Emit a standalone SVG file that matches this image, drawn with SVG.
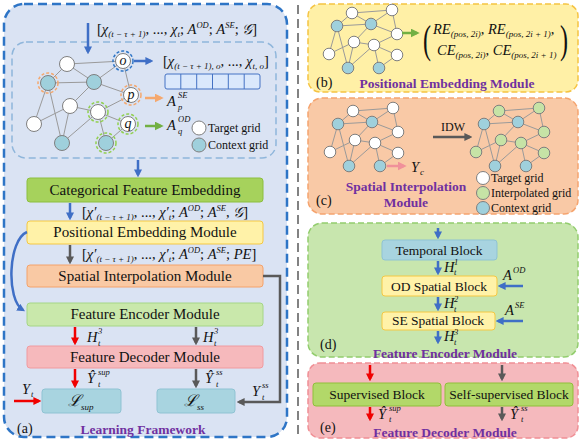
<svg xmlns="http://www.w3.org/2000/svg" xmlns:xlink="http://www.w3.org/1999/xlink" width="581" height="443" viewBox="0 0 581 443" font-family="'Liberation Serif', 'Times New Roman', serif">
<style>
text{font-family:"Liberation Serif","Times New Roman",serif;fill:#111}
.bx{font-size:15px;text-anchor:middle}
.bxs{font-size:13.5px;text-anchor:middle}
.m{font-size:14.5px}
.i{font-style:italic}
.s{font-size:8.5px;font-style:italic}
.sn{font-size:9px}
.pt{font-size:13.5px;font-weight:bold;fill:#7030a0;text-anchor:middle}
.lg{font-size:12px}
.ed{stroke:#9a9a9a;stroke-width:1;fill:none}
.nw{fill:#fff;stroke:#7f7f7f;stroke-width:1}
.nc{fill:#9fd0dc;stroke:#7f7f7f;stroke-width:1}
.ng{fill:#c6e3a6;stroke:#7f7f7f;stroke-width:1}
.ring{fill:none;stroke-width:1.5;stroke-dasharray:3 2}
.ab{stroke:#3f6fc6;stroke-width:2.5;fill:none;marker-end:url(#mb)}
.ag{stroke:#595959;stroke-width:2.5;fill:none;marker-end:url(#mg)}
.ar{stroke:#f00000;stroke-width:2.5;fill:none;marker-end:url(#mr)}
.ao{stroke:#f5a86e;stroke-width:2.5;fill:none;marker-end:url(#mo)}
.agr{stroke:#72b043;stroke-width:2.5;fill:none;marker-end:url(#mgr)}
.ap{stroke:#f0909a;stroke-width:2.5;fill:none;marker-end:url(#mp)}
</style>
<defs>
<marker id="mb" viewBox="0 0 10 10" refX="7" refY="5" markerWidth="8" markerHeight="8" markerUnits="userSpaceOnUse" orient="auto"><path d="M0,0L10,5L0,10z" fill="#3f6fc6"/></marker>
<marker id="mg" viewBox="0 0 10 10" refX="7" refY="5" markerWidth="8" markerHeight="8" markerUnits="userSpaceOnUse" orient="auto"><path d="M0,0L10,5L0,10z" fill="#595959"/></marker>
<marker id="mr" viewBox="0 0 10 10" refX="7" refY="5" markerWidth="8" markerHeight="8" markerUnits="userSpaceOnUse" orient="auto"><path d="M0,0L10,5L0,10z" fill="#f00000"/></marker>
<marker id="mo" viewBox="0 0 10 10" refX="7" refY="5" markerWidth="9" markerHeight="9" markerUnits="userSpaceOnUse" orient="auto"><path d="M0,0L10,5L0,10z" fill="#f5a86e"/></marker>
<marker id="mgr" viewBox="0 0 10 10" refX="7" refY="5" markerWidth="9" markerHeight="9" markerUnits="userSpaceOnUse" orient="auto"><path d="M0,0L10,5L0,10z" fill="#72b043"/></marker>
<marker id="mp" viewBox="0 0 10 10" refX="7" refY="5" markerWidth="9" markerHeight="9" markerUnits="userSpaceOnUse" orient="auto"><path d="M0,0L10,5L0,10z" fill="#f0909a"/></marker>
<g id="sg">
<path class="ed" d="M352,13L392,10M352,13L337,26M352,13L371,24M337,26L371,24M371,24L392,10M371,24L397,34M392,10L397,34M371,24L354,42M337,26L348,68M337,26L329,54M329,54L354,42M354,42L348,68M354,42L374,45M348,68L374,45M374,45L397,34M374,45L397,55M374,45L379,68M379,68L397,55"/>
<circle cx="352" cy="13" r="5.8" stroke="#7f7f7f"/>
<circle cx="392" cy="10" r="5.8" stroke="#7f7f7f"/>
<circle cx="337" cy="26" r="5.8" class="nc"/>
<circle cx="371" cy="24" r="5.8" class="nc"/>
<circle cx="397" cy="34" r="5.8" stroke="#7f7f7f"/>
<circle cx="354" cy="42" r="5.8" stroke="#7f7f7f"/>
<circle cx="374" cy="45" r="5.8" stroke="#7f7f7f"/>
<circle cx="329" cy="54" r="5.8" stroke="#7f7f7f"/>
<circle cx="397" cy="55" r="5.8" stroke="#7f7f7f"/>
<circle cx="348" cy="68" r="5.8" class="nc"/>
<circle cx="379" cy="68" r="5.8" class="nc"/>
</g>
</defs>

<!-- panel backgrounds -->
<rect x="4" y="4" width="283" height="433" rx="20" fill="#dae3f3" stroke="#2e75c6" stroke-width="2.5" stroke-dasharray="9 5"/>
<rect x="12" y="42" width="264" height="116" rx="14" fill="none" stroke="#8fb6db" stroke-width="1.5" stroke-dasharray="7 4"/>
<line x1="298" y1="5" x2="298" y2="438" stroke="#595959" stroke-width="1.5" stroke-dasharray="9 5"/>
<rect x="308" y="4" width="270" height="88" rx="12" fill="#fff0a6" stroke="#f5c342" stroke-width="1.5" stroke-dasharray="6 3"/>
<rect x="308" y="98" width="270" height="116" rx="14" fill="#f9c9a6" stroke="#f5a46f" stroke-width="1.5" stroke-dasharray="6 3"/>
<rect x="308" y="223" width="270" height="134" rx="14" fill="#c8e6ae" stroke="#93cd6e" stroke-width="1.5" stroke-dasharray="6 3"/>
<rect x="308" y="363" width="270" height="75" rx="12" fill="#f5b9bd" stroke="#f08f95" stroke-width="1.5" stroke-dasharray="6 3"/>

<!-- (a) graph -->
<g id="graph-a">
<path class="ed" d="M67,64L123,61M67,64L48,83M67,64L94,82M48,83L94,82M94,82L123,61M94,82L131,95M123,61L131,95M94,82L70,106M48,83L62,143M48,83L34,124M34,124L70,106M70,106L62,143M70,106L98,112M62,143L98,112M98,112L131,95M98,112L128,124M98,112L106,143M106,143L128,124"/>
<circle class="ring" cx="123" cy="61" r="10" stroke="#2e75c6"/>
<circle class="ring" cx="48" cy="83" r="10" stroke="#f5a86e"/>
<circle class="ring" cx="131" cy="95" r="10" stroke="#f5a86e"/>
<circle class="ring" cx="98" cy="112" r="10" stroke="#92d050"/>
<circle class="ring" cx="128" cy="124" r="10" stroke="#92d050"/>
<circle class="ring" cx="106" cy="143" r="10" stroke="#92d050"/>
<circle class="nw" cx="67" cy="64" r="7.5"/>
<circle class="nw" cx="123" cy="61" r="7.5"/>
<circle class="nc" cx="48" cy="83" r="7.5"/>
<circle class="nc" cx="94" cy="82" r="7.5"/>
<circle class="nw" cx="131" cy="95" r="7.5"/>
<circle class="nw" cx="70" cy="106" r="7.5"/>
<circle class="nw" cx="98" cy="112" r="7.5"/>
<circle class="nw" cx="34" cy="124" r="7.5"/>
<circle class="nw" cx="128" cy="124" r="7.5"/>
<circle class="nc" cx="62" cy="143" r="7.5"/>
<circle class="nc" cx="106" cy="143" r="7.5"/>
<text class="i" x="123" y="65" font-size="14" text-anchor="middle">o</text>
<text class="i" x="131" y="99" font-size="14" text-anchor="middle">p</text>
<text class="i" x="128" y="128" font-size="14" text-anchor="middle">q</text>
</g>

<g id="bar-o">
<rect x="165" y="74" width="95" height="15" rx="2" fill="#dae8fc" stroke="#4472c4" stroke-width="1"/>
<path d="M180.8,74V89M196.7,74V89M212.5,74V89M228.3,74V89M244.2,74V89" stroke="#4472c4" stroke-width="1"/>
</g>

<g id="legend-a">
<circle class="nw" cx="199" cy="128" r="7"/>
<text class="lg" x="208" y="132">Target grid</text>
<circle class="nc" cx="199" cy="145" r="7"/>
<text class="lg" x="208" y="149">Context grid</text>
</g>

<!-- formulas (a) -->
<text class="m" x="97" y="34">[<tspan class="i">χ</tspan><tspan class="sn i" dy="3">(t − τ + 1)</tspan><tspan dy="-3">, ..., </tspan><tspan class="i">χ</tspan><tspan class="sn i" dy="3">t</tspan><tspan dy="-3">; </tspan><tspan class="i">A</tspan><tspan class="s" dy="-6">OD</tspan><tspan dy="6">; </tspan><tspan class="i">A</tspan><tspan class="s" dy="-6">SE</tspan><tspan dy="6">; </tspan><tspan class="i">𝒢</tspan>]</text>
<text class="m" x="163" y="66">[<tspan class="i">χ</tspan><tspan class="sn i" dy="3">(t − τ + 1), o</tspan><tspan dy="-3">, ..., </tspan><tspan class="i">χ</tspan><tspan class="sn i" dy="3">t, o</tspan><tspan dy="-3">]</tspan></text>
<text class="m i" x="167" y="106">A</text><text class="s" x="178" y="98">SE</text><text class="s" x="178" y="110">p</text>
<text class="m i" x="167" y="130">A</text><text class="s" x="178" y="122">OD</text><text class="s" x="178" y="134">q</text>

<text class="m" x="82" y="217">[<tspan class="i">χ′</tspan><tspan class="sn i" dy="3">(t − τ + 1)</tspan><tspan dy="-3">, ..., </tspan><tspan class="i">χ′</tspan><tspan class="sn i" dy="3">t</tspan><tspan dy="-3">; </tspan><tspan class="i">A</tspan><tspan class="s" dy="-6">OD</tspan><tspan dy="6">; </tspan><tspan class="i">A</tspan><tspan class="s" dy="-6">SE</tspan><tspan dy="6">, </tspan><tspan class="i">𝒢</tspan>]</text>
<text class="m" x="82" y="259">[<tspan class="i">χ′</tspan><tspan class="sn i" dy="3">(t − τ + 1)</tspan><tspan dy="-3">, ..., </tspan><tspan class="i">χ′</tspan><tspan class="sn i" dy="3">t</tspan><tspan dy="-3">; </tspan><tspan class="i">A</tspan><tspan class="s" dy="-6">OD</tspan><tspan dy="6">; </tspan><tspan class="i">A</tspan><tspan class="s" dy="-6">SE</tspan><tspan dy="6">; </tspan><tspan class="i">PE</tspan>]</text>

<!-- (a) boxes -->
<g id="cfe"><rect x="27" y="178" width="236" height="24" rx="3" fill="#a6d25c" stroke="#8cbf3f"/><text class="bx" x="145" y="195">Categorical Feature Embedding</text></g>
<g id="pem"><rect x="27" y="221" width="236" height="23" rx="3" fill="#fff2a8" stroke="#f5c842"/><text class="bx" x="145" y="237">Positional Embedding Module</text></g>
<g id="sim"><rect x="27" y="265" width="236" height="22" rx="3" fill="#f9c9a4" stroke="#f4a26a"/><text class="bx" x="145" y="281">Spatial Interpolation Module</text></g>
<g id="fem"><rect x="27" y="303" width="236" height="23" rx="3" fill="#c9e8ab" stroke="#a5d686"/><text class="bx" x="145" y="319">Feature Encoder Module</text></g>
<g id="fdm"><rect x="27" y="346" width="236" height="22" rx="3" fill="#f6b9bc" stroke="#f09a9f"/><text class="bx" x="145" y="362">Feature Decoder Module</text></g>
<g id="lsup"><rect x="42" y="389" width="79" height="24" rx="3" fill="#a8d4e0" stroke="#8fc3d3"/><text x="68" y="406" font-size="16" class="i">ℒ</text><text x="81" y="410" class="sn i">sup</text></g>
<g id="lss"><rect x="157" y="389" width="78" height="24" rx="3" fill="#a8d4e0" stroke="#8fc3d3"/><text x="184" y="406" font-size="16" class="i">ℒ</text><text x="197" y="410" class="sn i">ss</text></g>

<!-- (a) labels -->
<text class="m i" x="87" y="342">H</text><text class="s" x="98" y="334">3</text><text class="s" x="98" y="346">t</text>
<text class="m i" x="203" y="342">H</text><text class="s" x="214" y="334">3</text><text class="s" x="214" y="346">t</text>
<text class="m i" x="87" y="383">Ŷ</text><text class="s" x="98" y="375">sup</text><text class="s" x="98" y="387">t</text>
<text class="m i" x="205" y="383">Ŷ</text><text class="s" x="216" y="375">ss</text><text class="s" x="216" y="387">t</text>
<text class="m i" x="22" y="394">Y</text><text class="s" x="31" y="397">t</text>
<text class="m i" x="252" y="396">Y</text><text class="s" x="262" y="388">ss</text><text class="s" x="262" y="400">t</text>
<text x="17" y="433" font-size="14">(a)</text>
<text class="pt" x="143" y="434">Learning Framework</text>

<!-- (b) -->
<g id="graph-b"><use xlink:href="#sg" fill="#fff"/></g>
<text x="423" y="53" font-size="40" transform="translate(423 0) scale(0.6 1) translate(-423 0)">(</text>
<text x="560" y="53" font-size="40" transform="translate(560 0) scale(0.6 1) translate(-560 0)">)</text>
<text class="m" x="433" y="34"><tspan class="i">RE</tspan><tspan class="sn i" dy="3">(pos, 2i)</tspan><tspan dy="-3">, </tspan><tspan class="i">RE</tspan><tspan class="sn i" dy="3">(pos, 2i + 1)</tspan><tspan dy="-3">,</tspan></text>
<text class="m" x="437" y="55"><tspan class="i">CE</tspan><tspan class="sn i" dy="3">(pos, 2i)</tspan><tspan dy="-3">, </tspan><tspan class="i">CE</tspan><tspan class="sn i" dy="3">(pos, 2i + 1)</tspan></text>
<text x="316" y="87" font-size="14">(b)</text>
<text class="pt" x="447" y="88">Positional Embedding Module</text>

<!-- (c) -->
<g id="graph-c1"><use xlink:href="#sg" fill="#fff" transform="translate(1 98)"/></g>
<g id="graph-c2"><use xlink:href="#sg" fill="#c6e3a6" transform="translate(147 98)"/></g>
<text x="453" y="131" font-size="12" text-anchor="middle">IDW</text>
<text class="m i" x="411" y="172">Y</text><text class="sn i" x="420" y="175">c</text>
<text class="pt" x="406" y="191">Spatial Interpolation</text>
<text class="pt" x="406" y="207">Module</text>
<text x="316" y="205" font-size="14">(c)</text>
<g id="legend-c">
<circle class="nw" cx="483" cy="178" r="6.5"/><text class="lg" x="491" y="182">Target grid</text>
<circle class="ng" cx="483" cy="193" r="6.5"/><text class="lg" x="491" y="197">Interpolated grid</text>
<circle class="nc" cx="483" cy="208" r="6.5"/><text class="lg" x="491" y="212">Context grid</text>
</g>

<!-- (d) -->
<g id="temporal"><rect x="382" y="240" width="115" height="20" rx="3" fill="#a8d4e0" stroke="#8fc3d3"/><text class="bxs" x="439" y="255">Temporal Block</text></g>
<g id="od-spatial"><rect x="382" y="276" width="115" height="20" rx="3" fill="#fff2a8" stroke="#f5c842"/><text class="bxs" x="439" y="290.5">OD Spatial Block</text></g>
<g id="se-spatial"><rect x="382" y="312" width="113" height="18" rx="3" fill="#fff2a8" stroke="#f5c842"/><text class="bxs" x="438" y="324.5">SE Spatial Block</text></g>
<text class="m i" x="444" y="272">H</text><text class="s" x="454" y="265">1</text><text class="s" x="454" y="275">t</text>
<text class="m i" x="444" y="308">H</text><text class="s" x="454" y="302">2</text><text class="s" x="454" y="311.5">t</text>
<text class="m i" x="444" y="341">H</text><text class="s" x="454" y="335">3</text><text class="s" x="454" y="345">t</text>
<text class="m i" x="503" y="280">A</text><text class="s" x="513" y="273">OD</text>
<text class="m i" x="505" y="315">A</text><text class="s" x="515" y="308">SE</text>
<text x="320" y="349" font-size="14">(d)</text>
<text class="pt" x="445" y="357.5">Feature Encoder Module</text>

<!-- (e) -->
<g id="supervised"><rect x="313" y="383" width="128" height="23" rx="3" fill="#b2d869" stroke="#8fbf3a"/><text class="bxs" x="377" y="399">Supervised Block</text></g>
<g id="self-supervised"><rect x="445" y="383" width="128" height="23" rx="3" fill="#b2d869" stroke="#8fbf3a"/><text class="bxs" x="509" y="399">Self-supervised Block</text></g>
<text class="m i" x="378" y="419">Ŷ</text><text class="s" x="389" y="411">sup</text><text class="s" x="389" y="422">t</text>
<text class="m i" x="510" y="419">Ŷ</text><text class="s" x="521" y="411">ss</text><text class="s" x="521" y="422">t</text>
<text x="320" y="432" font-size="14">(e)</text>
<text class="pt" x="445" y="437">Feature Decoder Module</text>

<!-- connectors -->
<g id="connectors">
<path class="ab" d="M88,23V52"/>
<path class="ab" d="M134,61H151"/>
<path class="ao" d="M145,98H161"/>
<path class="agr" d="M145,126H161"/>
<path class="ab" d="M138,160V175"/>
<path class="ab" d="M70,203V218"/>
<path class="ag" d="M70,245V262"/>
<path class="ab" d="M27,232C8,240 6,300 23,310"/>
<path class="ag" d="M263,276H280V402H239"/>
<path class="ar" d="M75,327V343"/>
<path class="ag" d="M196,327V343"/>
<path class="ar" d="M75,369V386"/>
<path class="ag" d="M196,369V386"/>
<path class="ar" d="M14,401H39"/>
<path class="agr" d="M402,33H417"/>
<path class="ag" d="M433,137H470"/>
<path class="ap" d="M387,166H404"/>
<path class="ab" d="M438,228V237"/>
<path class="ab" d="M438,261V273"/>
<path class="ab" d="M438,297V309"/>
<path class="ab" d="M438,331V342"/>
<path class="ab" d="M523,286H500"/>
<path class="ab" d="M523,321H498"/>
<path class="ar" d="M370,365V379"/>
<path class="ag" d="M502,365V379"/>
<path class="ar" d="M370,407V419"/>
<path class="ag" d="M502,407V419"/>
</g>
</svg>
